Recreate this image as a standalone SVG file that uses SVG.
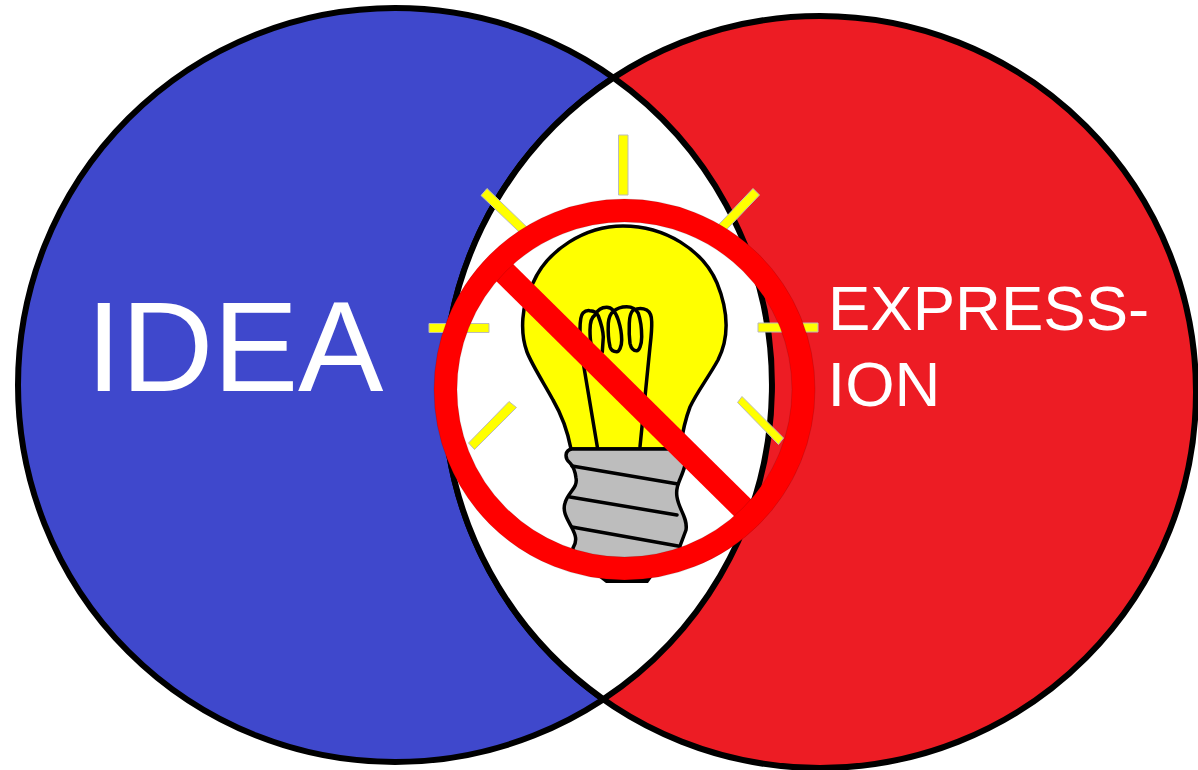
<svg xmlns="http://www.w3.org/2000/svg" width="1198" height="770" viewBox="0 0 1198 770">
<style>
.o{stroke:#000;fill:none;stroke-linecap:round;stroke-linejoin:round;stroke-width:3.500}
.ray{fill:#ff0;stroke:#bbb;stroke-width:1}
text{fill:#fff;font-family:"Liberation Sans",Arial,sans-serif}
</style>
<rect width="1198" height="770" fill="#fff"/>
<g id="idea-circle"><circle cx="395" cy="385" r="377" fill="#3f48cc" stroke="#000" stroke-width="6"/></g>
<g id="expression-circle"><circle cx="820" cy="392" r="376" fill="#ed1c24" stroke="#000" stroke-width="6"/></g>
<g id="overlap"><path d="M613.500 77.800A377 377 0 0 1 603.300 699.200A376 376 0 0 1 613.500 77.800Z" fill="#fff" stroke="#000" stroke-width="6" stroke-linejoin="round"/></g>
<g id="rays">
<path class="ray" d="M618.500 135H628V195H618.500Z"/>
<path class="ray" d="M481 195.500L487 188.500L532 232L526 238.500Z"/>
<path class="ray" d="M753 188.500L759.500 195L720 236.500L713.500 230Z"/>
<path class="ray" d="M429 323.500H489V332.500H429Z"/>
<path class="ray" d="M758 323H818V332H758Z"/>
<path class="ray" d="M509 401.500L516.500 407.500L474.500 449.500L468.500 443Z"/>
<path class="ray" d="M742 396.500L737.500 402.500L778.500 444.500L783.500 438Z"/>
</g>
<g id="bulb">
<path d="M571 449C567 428 560 412 553 400C545 385 532 365 527 352C520 333 521 305 533 283C547 250 585 226 623 226C665 226 703 250 717 283C730 315 728 340 718 360C708 378 697 392 690 407C685 420 682 435 680 449Z" fill="#ff0" stroke="#000" stroke-width="3.500"/>
<path d="M597 576H653L648 583H606Z" fill="#000"/>
<path d="M572 449H684L685 465C682 478 675 485 677 497C679 510 688 518 686 530L680 546V565H573V548C578 540 575 534 572 528C568 520 562 512 565 503C568 492 578 488 576 478C575 470 573 466 570 463C564 458 565 450 572 449Z" fill="#bdbdbd" stroke="#000" stroke-width="3.500" stroke-linejoin="round"/>
<path class="o" d="M572 466L678 484M570 497L677 515M572 527L678 546"/>
<path class="o" d="M597.300 446.700L583.300 363.300C581 350 579.500 340 580 330C580 320 581 315 583 313C586 310 588 310.500 590 310.700C594 311 597 313 598.300 316C601 323 603 330 603.300 337L602.300 352"/>
<path class="o" d="M596 352C591 348 590 342 590 330C590 322 592 317 595 315C598 309 602 307.300 606.700 307.300C612 307.300 616 313 618.300 320C620.500 327 621.700 333 621.700 340C621.700 347 619 351.700 616.700 351.700C613 351.700 611 350 610 346.700C608.500 340 608 330 608.300 323.300C609 317 611 313 613.300 311.700C617 308 622 306.700 626.700 306.700C632 306.700 636 309 638.300 313.300C640.500 320 641.700 330 641.700 336.700C641.700 345 639 350.700 636.700 350.700C633 350.700 631 348 630 343.300C629 336 629 330 629.300 323.300C629.500 317 631 312 633.300 310C638 308 643 308 646.700 310C650 312 651.700 316 651.700 321.700C652 330 651 338 650 346.700L640 446.700"/>
</g>
<g id="prohibition">
<path d="M495 263L752 517" stroke="#f00" stroke-width="24" fill="none"/>
<circle cx="624.500" cy="389.500" r="179" fill="none" stroke="#f00" stroke-width="23"/>
<circle cx="624.500" cy="389.500" r="190.500" fill="none" stroke="#000" stroke-opacity=".12" stroke-width="1"/>
<circle cx="624.500" cy="389.500" r="167.500" fill="none" stroke="#000" stroke-opacity=".12" stroke-width="1"/>
</g>
<g id="labels">
<text x="86" y="391" font-size="128" letter-spacing="-.5">IDEA</text>
<text x="828" y="329.500" font-size="63.500">EXPRESS-</text>
<text x="827.500" y="406" font-size="63.500">ION</text>
</g>
</svg>
